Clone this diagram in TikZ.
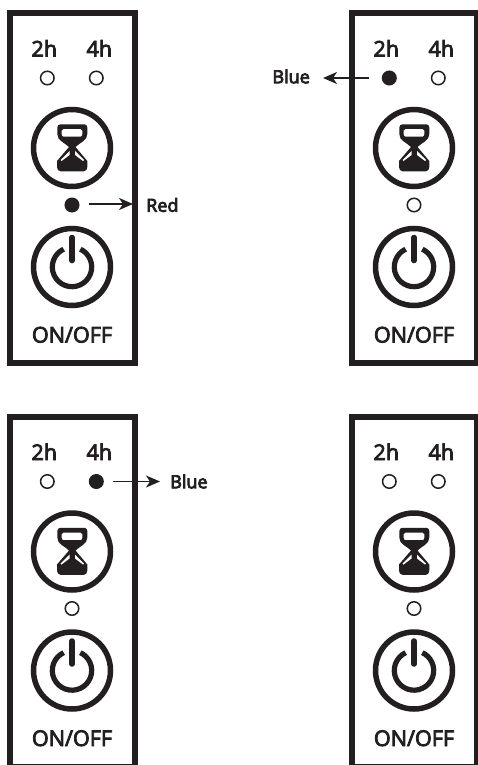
\documentclass[tikz,border=0pt]{standalone}
\usepackage{fontspec}
\setmainfont{Open Sans}
\usetikzlibrary{arrows.meta}
\definecolor{ink}{HTML}{231F20}
\newcommand{\heavytext}[1]{\special{pdf:code q 2 Tr 0.8 w 0.137 0.122 0.125 RG}#1\special{pdf:code Q}}
\tikzset{
  panelbox/.style={draw=ink,line width=6,fill=white},
  ring/.style={circle,draw=ink,line width=5.5,minimum size=77,inner sep=0,fill=white},
  ledoff/.style={circle,draw=ink,line width=1.5,minimum size=13.5,inner sep=0,fill=white},
  ledon/.style={circle,draw=ink,fill=ink,line width=1.5,minimum size=13.5,inner sep=0},
  lab/.style={font=\fontsize{21.6}{22}\selectfont,text=ink,inner sep=0},
  smalllab/.style={font=\fontsize{18}{18}\selectfont,text=ink,inner sep=0},
  pointer/.style={draw=ink,line width=1.8,-{Stealth[length=14,width=12,inset=4]}},
}
% #1 prefix, #2 x shift, #3 y shift, #4 style 2h, #5 style 4h, #6 style middle
\newcommand{\panelunit}[6]{%
\begin{scope}[shift={(#2,#3)}]
  \node[panelbox,minimum width=125,minimum height=349.5,inner sep=0] (#1box) at (72,188.25) {};
  \node[lab,anchor=base] (#1two) at (44.3,56.5) {\heavytext{2h}};
  \node[lab,anchor=base] (#1four) at (99.3,56.5) {\heavytext{4h}};
  \node[#4] (#1ledA) at (47.3,78) {};
  \node[#5] (#1ledB) at (96.3,78) {};
  \node[ring] (#1timer) at (72,148) {};
  \fill[ink,even odd rule]
    (60.5,124.3) -- (84.5,124.3) to[out=0,in=90] (87.3,127.5) -- (87.3,134)
    to[out=-90,in=45] (75.5,147) -- (87.3,161) -- (87.3,167) to[out=-90,in=0] (84,171.3)
    -- (60.5,171.3) to[out=180,in=-90] (57,167) -- (57,161) -- (69,147)
    to[out=135,in=-90] (57.3,134) -- (57.3,127.5) to[out=90,in=180] cycle
    (63.5,129) -- (80.5,129) to[out=0,in=90] (82.3,130.5) -- (82.3,134.5) to[out=-90,in=0] (80.5,136.7)
    -- (63.5,136.7) to[out=180,in=-90] (61.7,134.5) -- (61.7,130.5) to[out=90,in=180] cycle;
  \fill[white] (69.5,151) -- (69.5,155) -- (61.5,161) -- (60.5,160) -- cycle;
  \fill[white] (75,151) -- (75,155) -- (83,161) -- (84,160) -- cycle;
  \node[#6] (#1ledC) at (72,205) {};
  \node[ring] (#1power) at (72,267) {};
  \draw[ink,line width=5.2] (#1power.center) ++(115:19.7pt) arc[start angle=115,end angle=425,radius=19.7pt];
  \draw[ink,line width=5.5,line cap=round] (72,237.5) -- (72,260.5);
  \node[lab,anchor=base] (#1onoff) at (72,342.5) {\heavytext{ON/OFF}};
\end{scope}}
\begin{document}
\begin{tikzpicture}[x=1pt,y=-1pt]
\useasboundingbox (0,0) rectangle (478,765);
\clip (0,0) rectangle (478,765);
\panelunit{a}{0}{0}{ledoff}{ledoff}{ledon}
\panelunit{b}{342}{0}{ledon}{ledoff}{ledoff}
\panelunit{c}{0}{403.5}{ledoff}{ledon}{ledoff}
\panelunit{d}{342}{403.5}{ledoff}{ledoff}{ledoff}
\node[smalllab,anchor=west] (red) at (146,205) {\heavytext{Red}};
\node[smalllab,anchor=east] (blueb) at (310,76.5) {\heavytext{Blue}};
\node[smalllab,anchor=west] (bluec) at (170,481.5) {\heavytext{Blue}};
\draw[pointer,shorten <=17,shorten >=13] (aledC.center) ++(0,-1) coordinate (s1) (s1) -- (red.west |- s1);
\draw[pointer,shorten <=20,shorten >=13] (bledA.center) -- (blueb.east |- bledA.center);
\draw[pointer,shorten <=17,shorten >=10] (cledB.center) -- (bluec.west |- cledB.center);
\end{tikzpicture}
\end{document}
